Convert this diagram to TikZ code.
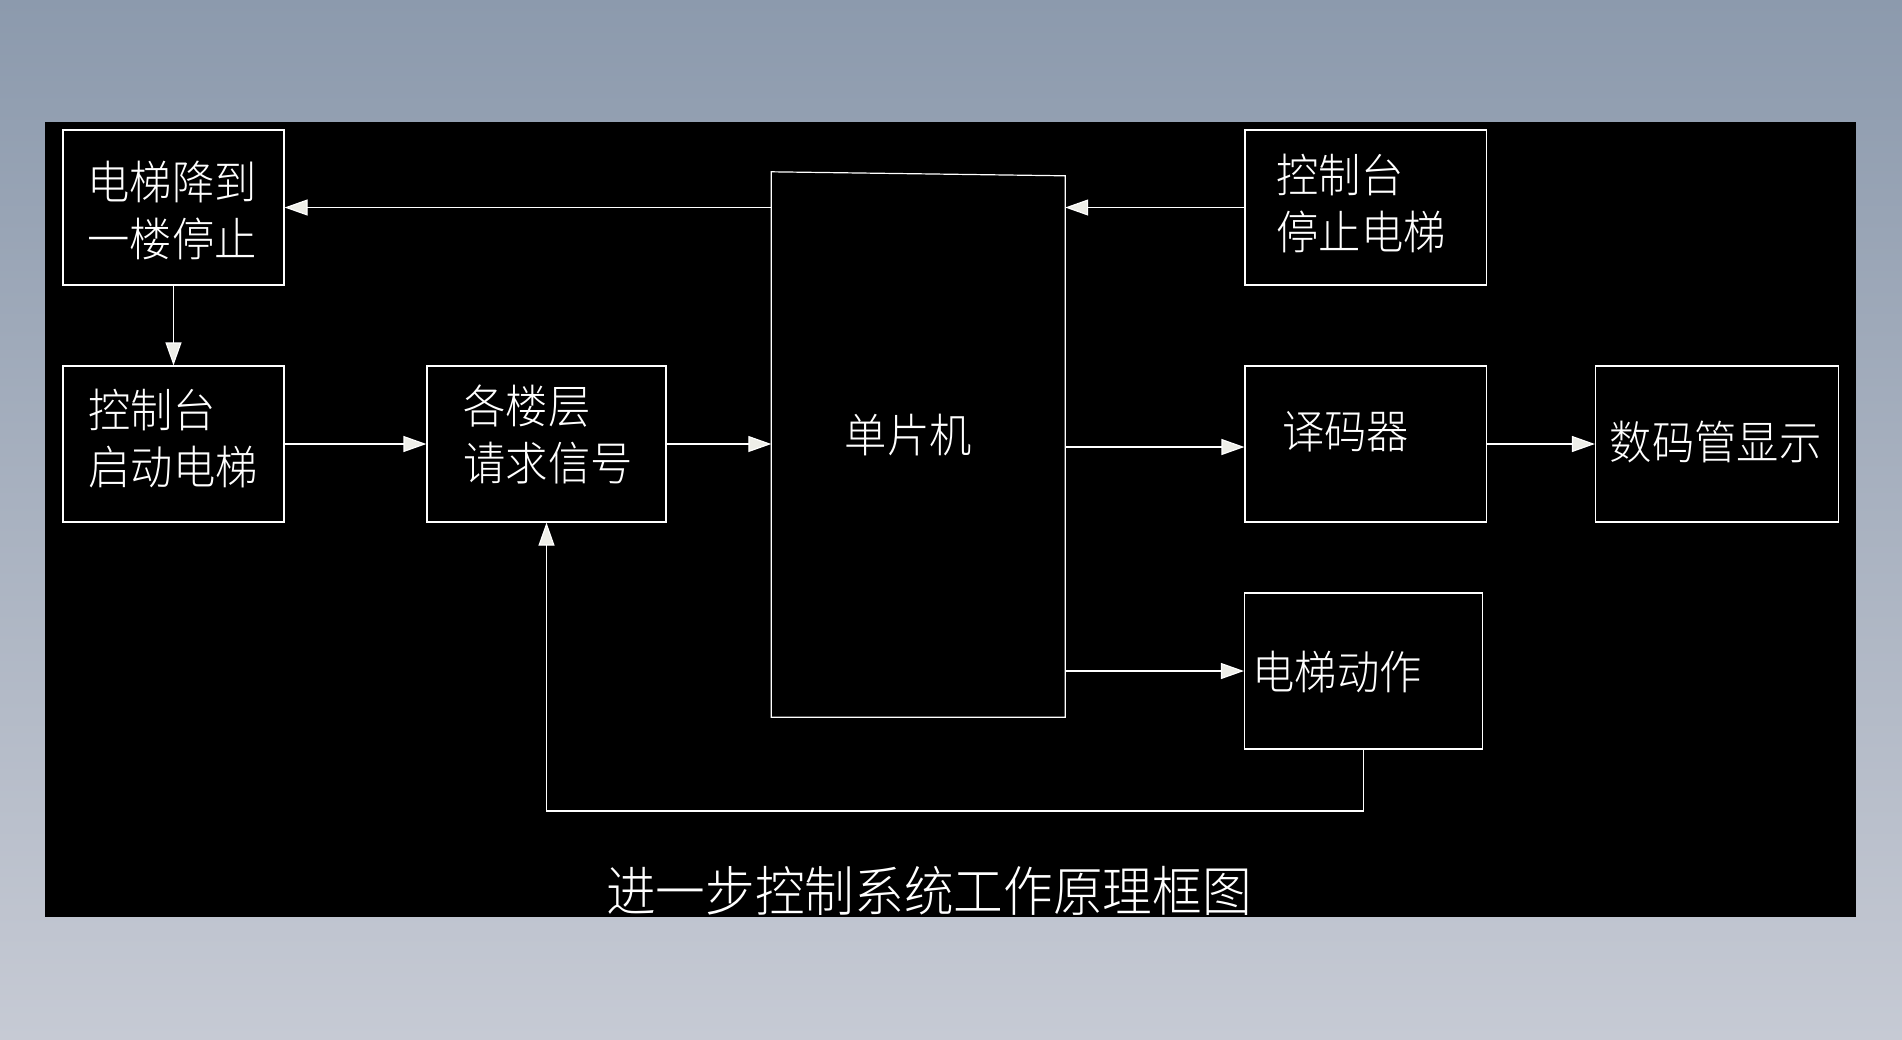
\documentclass[tikz,border=0pt]{standalone}
\usepackage{fontspec}
\IfFontExistsTF{Noto Sans CJK SC Light}
  {\setmainfont{Noto Sans CJK SC Light}[FakeStretch=0.92]}
  {\setmainfont{Noto Sans CJK SC}[FakeStretch=0.92]}
\usetikzlibrary{arrows.meta}
\definecolor{bgtop}{HTML}{8C9AAD}
\definecolor{bgbot}{HTML}{C6CAD4}
\definecolor{tipcol}{HTML}{EEEEE8}
\begin{document}
\begin{tikzpicture}[x=1pt,y=-1pt,
  blk/.style={draw=white, line width=1.2pt, rectangle, inner sep=0pt},
  lbl/.style={text=white, align=left, inner sep=0pt, font=\fontsize{46}{57}\selectfont},
  link/.style={draw=white, line width=1.2pt, -{Triangle[length=23pt,width=16pt,fill=tipcol]}}]
% background
\useasboundingbox (0,0) rectangle (1902,1039);
\shade[top color=bgtop, bottom color=bgbot] (0,0) rectangle (1902,1039);
\fill[black] (45,122) rectangle (1856,917);
% boxes
\node[blk, minimum width=221pt, minimum height=155pt,
  label={[lbl, xshift=-1.5pt, yshift=-2.5pt]center:电梯降到\\一楼停止}] (A) at (173.5,207.5) {};
\node[blk, minimum width=221pt, minimum height=156pt,
  label={[lbl, xshift=-0.5pt, yshift=5.5pt]center:控制台\\启动电梯}] (B) at (173.5,444) {};
\node[blk, minimum width=239pt, minimum height=156pt,
  label={[lbl, xshift=1.5pt, yshift=10pt]center:各楼层\\请求信号}] (C) at (546.5,444) {};
\node[minimum width=293.5pt, minimum height=543pt, inner sep=0pt,
  label={[lbl, xshift=-10pt, yshift=10.5pt]center:单片机}] (M) at (918.25,445.5) {};
\draw[white, line width=1.2pt] (M.south west) -- ([yshift=2pt]M.north west) -- ([yshift=-2pt]M.north east) -- (M.south east) -- cycle;
\node[blk, minimum width=241.5pt, minimum height=155pt,
  label={[lbl, xshift=-4.75pt, yshift=4pt]center:控制台\\停止电梯}] (D) at (1365.75,207.5) {};
\node[blk, minimum width=241.5pt, minimum height=156pt,
  label={[lbl, xshift=-20pt, yshift=12pt]center:译码器}] (E) at (1365.75,444) {};
\node[blk, minimum width=243pt, minimum height=156pt,
  label={[lbl, xshift=-1.5pt, yshift=2pt]center:数码管显示}] (F) at (1717,444) {};
\node[blk, minimum width=238pt, minimum height=156pt,
  label={[lbl, xshift=-26.5pt, yshift=-1.5pt]center:电梯动作}] (G) at (1363.5,671) {};
% connectors
\draw[link] (M.west |- A.east) -- (A.east);
\draw[link] (D.west) -- (D.west -| M.east);
\draw[link] (A.south) -- (B.north);
\draw[link] (B.east) -- (C.west);
\draw[link] (C.east) -- (C.east -| M.west);
\draw[link] ([yshift=-3pt]E.west -| M.east) -- ([yshift=-3pt]E.west);
\draw[link] (E.east) -- (F.west);
\draw[link] (G.west -| M.east) -- (G.west);
\coordinate (fb) at (1363.5,811);
\draw[link] (G.south) -- (fb) -- (fb -| C.south) -- (C.south);
% caption
\node[text=white, inner sep=0pt, font=\fontsize{54}{60}\selectfont] (cap) at (929,891) {进一步控制系统工作原理框图};
\end{tikzpicture}
\end{document}
